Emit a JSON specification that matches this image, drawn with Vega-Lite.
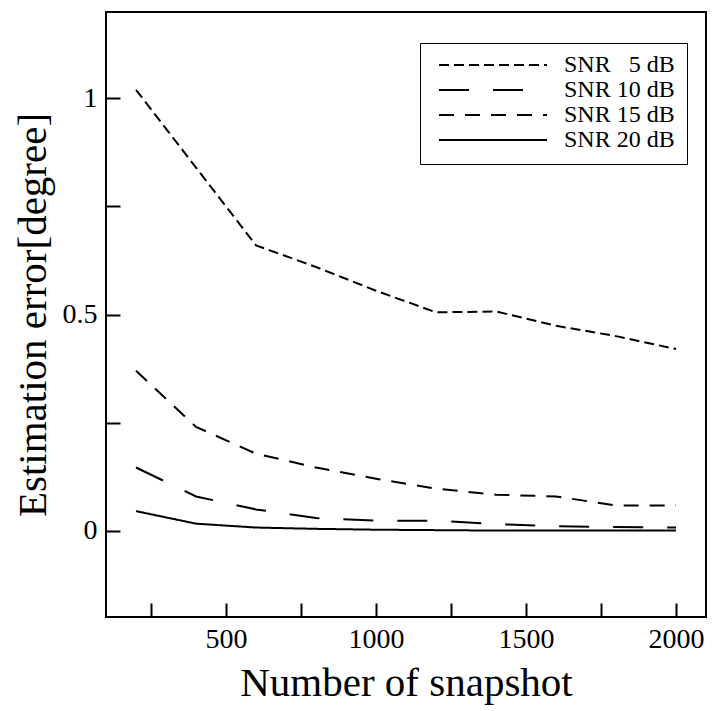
{
  "$schema": "https://vega.github.io/schema/vega-lite/v6.json",
  "width": 600,
  "height": 605,
  "autosize": "none",
  "padding": {"left": 106, "top": 12, "right": 8, "bottom": 94},
  "background": "white",
  "config": {
    "view": {"stroke": "black", "strokeWidth": 2},
    "font": "Liberation Serif"
  },
  "data": {
    "values": [
      {"snr": "SNR \u20075 dB", "snapshot": 200, "error": 1.02},
      {"snr": "SNR \u20075 dB", "snapshot": 400, "error": 0.84},
      {"snr": "SNR \u20075 dB", "snapshot": 600, "error": 0.66},
      {"snr": "SNR \u20075 dB", "snapshot": 800, "error": 0.61},
      {"snr": "SNR \u20075 dB", "snapshot": 1000, "error": 0.555},
      {"snr": "SNR \u20075 dB", "snapshot": 1200, "error": 0.505},
      {"snr": "SNR \u20075 dB", "snapshot": 1400, "error": 0.507},
      {"snr": "SNR \u20075 dB", "snapshot": 1600, "error": 0.474},
      {"snr": "SNR \u20075 dB", "snapshot": 1800, "error": 0.45},
      {"snr": "SNR \u20075 dB", "snapshot": 2000, "error": 0.42},
      {"snr": "SNR 10 dB", "snapshot": 200, "error": 0.146},
      {"snr": "SNR 10 dB", "snapshot": 400, "error": 0.079},
      {"snr": "SNR 10 dB", "snapshot": 600, "error": 0.049},
      {"snr": "SNR 10 dB", "snapshot": 800, "error": 0.029},
      {"snr": "SNR 10 dB", "snapshot": 1000, "error": 0.023},
      {"snr": "SNR 10 dB", "snapshot": 1200, "error": 0.023},
      {"snr": "SNR 10 dB", "snapshot": 1400, "error": 0.015},
      {"snr": "SNR 10 dB", "snapshot": 1600, "error": 0.01},
      {"snr": "SNR 10 dB", "snapshot": 1800, "error": 0.008},
      {"snr": "SNR 10 dB", "snapshot": 2000, "error": 0.007},
      {"snr": "SNR 15 dB", "snapshot": 200, "error": 0.37},
      {"snr": "SNR 15 dB", "snapshot": 400, "error": 0.24},
      {"snr": "SNR 15 dB", "snapshot": 600, "error": 0.178},
      {"snr": "SNR 15 dB", "snapshot": 800, "error": 0.146},
      {"snr": "SNR 15 dB", "snapshot": 1000, "error": 0.12},
      {"snr": "SNR 15 dB", "snapshot": 1200, "error": 0.097},
      {"snr": "SNR 15 dB", "snapshot": 1400, "error": 0.083},
      {"snr": "SNR 15 dB", "snapshot": 1600, "error": 0.079},
      {"snr": "SNR 15 dB", "snapshot": 1800, "error": 0.058},
      {"snr": "SNR 15 dB", "snapshot": 2000, "error": 0.058},
      {"snr": "SNR 20 dB", "snapshot": 200, "error": 0.045},
      {"snr": "SNR 20 dB", "snapshot": 400, "error": 0.016},
      {"snr": "SNR 20 dB", "snapshot": 600, "error": 0.007},
      {"snr": "SNR 20 dB", "snapshot": 800, "error": 0.004},
      {"snr": "SNR 20 dB", "snapshot": 1000, "error": 0.002},
      {"snr": "SNR 20 dB", "snapshot": 1200, "error": 0.001},
      {"snr": "SNR 20 dB", "snapshot": 1400, "error": 0.0},
      {"snr": "SNR 20 dB", "snapshot": 1600, "error": 0.0},
      {"snr": "SNR 20 dB", "snapshot": 1800, "error": 0.0},
      {"snr": "SNR 20 dB", "snapshot": 2000, "error": 0.0}
    ]
  },
  "mark": {"type": "line", "color": "black", "strokeWidth": 2},
  "encoding": {
    "x": {
      "field": "snapshot", "type": "quantitative",
      "scale": {"domain": [100, 2100], "nice": false, "zero": false},
      "axis": {"orient": "bottom", "values": [250, 500, 750, 1000, 1250, 1500, 1750, 2000], "labelExpr": "datum.value % 500 === 0 ? format(datum.value, 'd') : ''", "grid": false, "domain": false, "ticks": true, "tickSize": -14, "tickWidth": 2, "tickColor": "black", "labelPadding": 22, "labelFont": "Liberation Serif", "labelFontSize": 28, "labelColor": "black", "labelFlush": false, "labelOverlap": false, "title": "Number of snapshot", "titleFont": "Liberation Serif", "titleFontSize": 41, "titleFontWeight": "normal", "titleColor": "black", "titlePadding": 10}
    },
    "y": {
      "field": "error", "type": "quantitative",
      "scale": {"domain": [-0.2, 1.2], "nice": false, "zero": false},
      "axis": {"orient": "left", "values": [0, 0.25, 0.5, 0.75, 1], "labelExpr": "datum.value % 0.5 === 0 ? format(datum.value, '~g') : ''", "grid": false, "domain": false, "ticks": true, "tickSize": -14, "tickWidth": 2, "tickColor": "black", "labelPadding": 23, "labelFont": "Liberation Serif", "labelFontSize": 28, "labelColor": "black", "labelFlush": false, "labelOverlap": false, "title": "Estimation error[degree]", "titleFont": "Liberation Serif", "titleFontSize": 41, "titleFontWeight": "normal", "titleColor": "black", "titlePadding": 8}
    },
    "strokeDash": {
      "field": "snr", "type": "nominal",
      "scale": {
        "domain": ["SNR \u20075 dB", "SNR 10 dB", "SNR 15 dB", "SNR 20 dB"],
        "range": [[10, 5], [30, 24], [15, 11], [1, 0]]
      },
      "legend": {
        "orient": "none", "legendX": 314, "legendY": 31,
        "title": null,
        "symbolType": "stroke", "symbolSize": 11664, "symbolStrokeWidth": 2, "symbolStrokeColor": "black",
        "clipHeight": 20, "rowPadding": 1,
        "labelFont": "Liberation Serif", "labelFontSize": 24, "labelColor": "black",
        "labelOffset": 16, "symbolOffset": 6,
        "strokeColor": "black", "fillColor": "white", "padding": 12
      }
    }
  }
}
